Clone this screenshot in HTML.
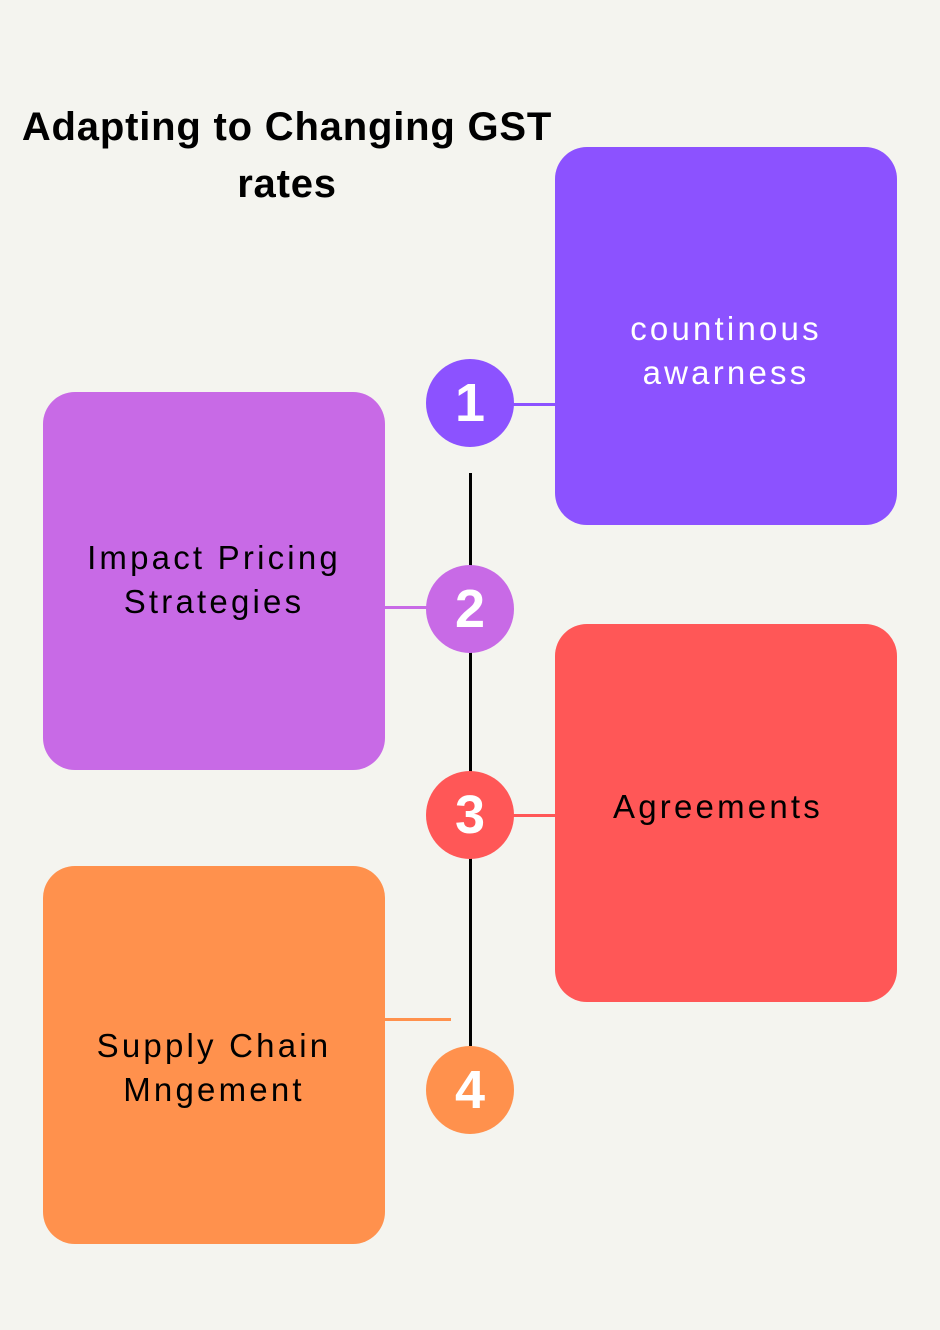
<!DOCTYPE html>
<html><head><meta charset="utf-8"><style>
body{margin:0;width:940px;height:1330px;background:#f4f4ef;position:relative;overflow:hidden;font-family:"Liberation Sans",sans-serif}
.t{position:absolute;left:0;width:574px;text-align:center;font-weight:bold;font-size:40px;letter-spacing:0.8px;line-height:57px;top:99px;color:#000}
.b{position:absolute;width:342px;height:378px;border-radius:32px}
.x{position:absolute;text-align:center;font-size:33px;letter-spacing:3.2px;line-height:44px;transform:translate(-50%,-50%);white-space:nowrap}
.c{position:absolute;width:88px;height:88px;border-radius:50%;left:426px;color:#fff;font-weight:bold;font-size:54px;line-height:88px;text-align:center}
.l{position:absolute;height:3px}
</style></head><body>
<div class="t">Adapting to Changing GST<br>rates</div>
<div style="position:absolute;left:469px;top:473px;width:3px;height:573px;background:#000"></div>
<div class="l" style="left:512px;top:403px;width:44px;background:#8c52ff"></div>
<div class="l" style="left:384px;top:606px;width:44px;background:#c86ae6"></div>
<div class="l" style="left:512px;top:814px;width:44px;background:#ff5757"></div>
<div class="l" style="left:384px;top:1018px;width:67px;background:#ff914d"></div>
<div class="b" style="left:555px;top:147px;background:#8c52ff"></div>
<div class="b" style="left:43px;top:392px;background:#c86ae6"></div>
<div class="b" style="left:555px;top:624px;background:#ff5757"></div>
<div class="b" style="left:43px;top:866px;background:#ff914d"></div>
<div class="x" style="left:726px;top:351px;color:#fff">countinous<br>awarness</div>
<div class="x" style="left:214px;top:580px">Impact Pricing<br>Strategies</div>
<div class="x" style="left:718px;top:807px">Agreements</div>
<div class="x" style="left:214px;top:1068px">Supply Chain<br>Mngement</div>
<div class="c" style="top:359px;background:#8c52ff">1</div>
<div class="c" style="top:565px;background:#c86ae6">2</div>
<div class="c" style="top:771px;background:#ff5757">3</div>
<div class="c" style="top:1046px;background:#ff914d">4</div>
</body></html>
